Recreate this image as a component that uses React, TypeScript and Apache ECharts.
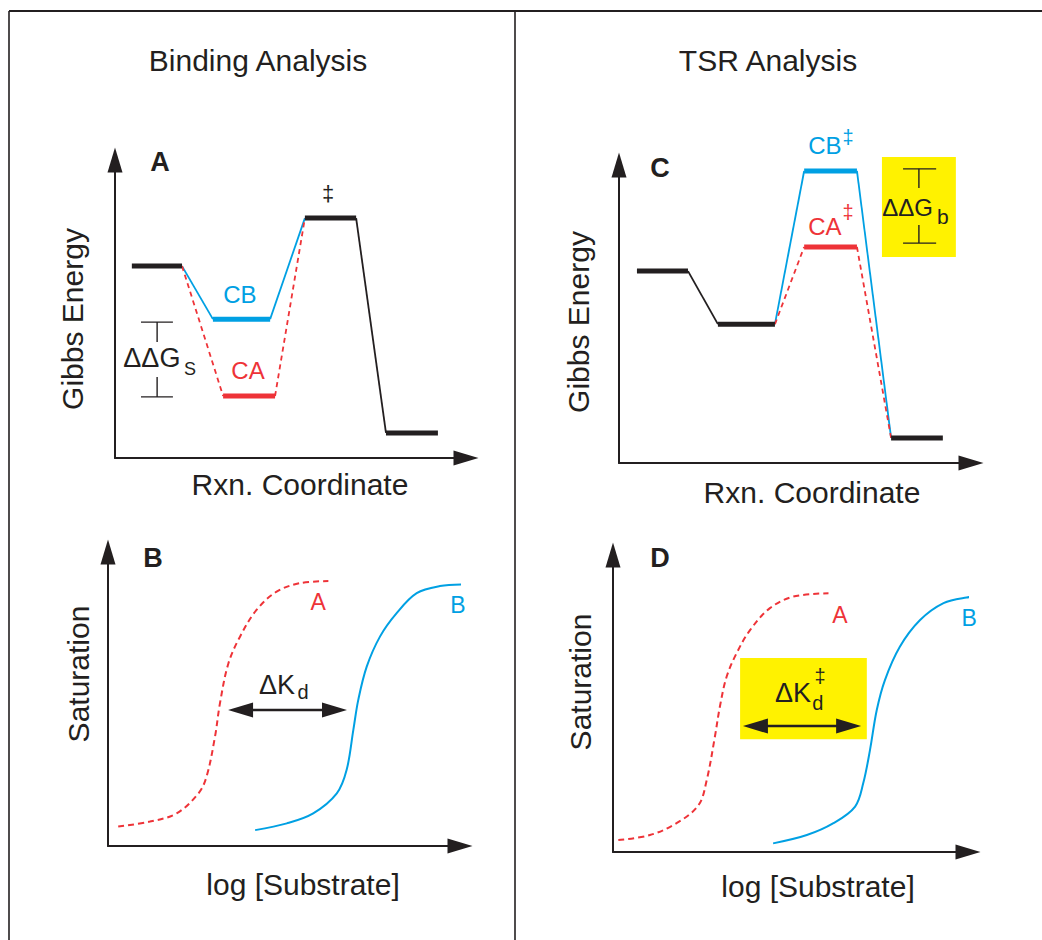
import React, { useEffect, useRef } from 'react';
import * as echarts from 'echarts';

const BLUE = '#00a0e3';
const RED = '#ee3338';
const INK = '#231f20';
const YELLOW = '#fff200';
const FONT = '"Liberation Sans", Arial, Helvetica, sans-serif';
const TONES: Record<string, string> = { ink: INK, blue: BLUE, red: RED };

// ---------- Panel A : Binding analysis energy diagram ----------
const A_LEVEL_START = [4.8, 27.9, 30.8, 54.1, 77.2];
const A_LEVEL_END = [19.1, 44.2, 45.6, 68.7, 92.0];
const A_LEVEL_ENERGY = [64.4, 46.6, 20.8, 80.5, 8.4];
const A_LEVEL_TONE = ['ink', 'blue', 'red', 'ink', 'ink'];
const A_LINK_FROM = [0, 0, 1, 2, 3];
const A_LINK_TO = [1, 2, 3, 3, 4];
const A_LINK_TONE = ['blue', 'red', 'blue', 'red', 'ink'];
const A_BRACKET_X = [7.4, 12.0, 16.5];
const A_BRACKET_Y = [45.6, 38.9, 27.2, 20.5];

// ---------- Panel C : TSR analysis energy diagram ----------
const C_LEVEL_START = [5.1, 28.1, 52.6, 52.6, 77.3];
const C_LEVEL_END = [19.6, 44.3, 67.6, 67.6, 92.0];
const C_LEVEL_ENERGY = [64.4, 46.6, 98.0, 72.5, 8.4];
const C_LEVEL_TONE = ['ink', 'ink', 'blue', 'red', 'ink'];
const C_LINK_FROM = [0, 1, 1, 2, 3];
const C_LINK_TO = [1, 2, 3, 4, 4];
const C_LINK_TONE = ['ink', 'blue', 'red', 'blue', 'red'];
const C_BRACKET_X = [80.7, 85.2, 90.1];
const C_BRACKET_Y = [98.7, 92.3, 79.9, 73.8];
const C_BOX_X = [74.7, 95.7];
const C_BOX_Y = [102.7, 69.1];

// ---------- Panel B : saturation curves ----------
const B_A_X = [2.9, 11.9, 19.5, 25.7, 28.0, 30.4, 31.8, 34.2, 37.5, 42.2, 47.9, 54.5, 62.6];
const B_A_Y = [6.6, 8.3, 11.1, 17.9, 23.6, 37.2, 48.5, 62.1, 71.2, 80.3, 86.5, 89.4, 90.1];
const B_B_X = [41.8, 50.8, 58.3, 65.0, 67.8, 69.7, 71.1, 73.5, 77.3, 82.0, 87.7, 94.3, 101.4];
const B_B_Y = [5.4, 7.7, 11.1, 17.9, 25.9, 39.5, 49.7, 61.0, 71.3, 79.2, 86.0, 88.4, 89.0];
const B_ARROW_X = [34.1, 67.9];
const B_ARROW_Y = 46.3;

// ---------- Panel D : saturation curves ----------
const D_A_X = [1.5, 10.4, 17.9, 24.1, 26.4, 28.7, 30.1, 32.0, 34.8, 38.6, 44.2, 50.8, 60.7];
const D_A_Y = [4.0, 5.7, 9.7, 15.8, 24.2, 38.8, 48.9, 59.0, 66.9, 74.7, 82.1, 86.0, 87.1];
const D_B_X = [45.1, 54.6, 62.1, 68.2, 70.5, 72.4, 74.3, 76.6, 80.8, 86.5, 93.1, 99.6, 104.3];
const D_B_Y = [2.9, 5.7, 9.7, 15.3, 23.2, 34.4, 47.8, 57.9, 69.1, 78.1, 83.8, 85.7, 86.1];
const D_ARROW_X = [36.6, 69.9];
const D_ARROW_Y = 42.4;
const D_BOX_X = [35.8, 71.5];
const D_BOX_Y = [65.3, 38.0];

const GRIDS = [
  { left: 115, top: 160, width: 351, height: 298 }, // A
  { left: 619, top: 165, width: 352, height: 298 }, // C
  { left: 108, top: 552, width: 352, height: 294 }, // B
  { left: 613, top: 555, width: 355, height: 297 }, // D
];

const axisBase = (g: number) => ({
  type: 'value',
  gridIndex: g,
  min: 0,
  max: 100,
  axisLine: {
    show: true,
    onZero: false,
    symbol: ['none', 'triangle'],
    symbolSize: [15, 25],
    lineStyle: { color: INK, width: 2 },
  },
  axisTick: { show: false },
  axisLabel: { show: false },
  splitLine: { show: false },
});

function seg(g: number, pts: number[][], color: string, width: number, dashed = false, z = 2) {
  return {
    type: 'line',
    xAxisIndex: g,
    yAxisIndex: g,
    data: pts,
    symbol: 'none',
    silent: true,
    clip: false,
    z,
    lineStyle: { color, width, type: dashed ? [5, 4] : 'solid', cap: 'butt' },
  };
}

function energySeries(g: number, start: number[], end: number[], energy: number[], tone: string[],
  from: number[], to: number[], linkTone: string[]) {
  const out: any[] = [];
  from.forEach((f, i) => {
    const t = to[i];
    out.push(seg(g, [[end[f], energy[f]], [start[t], energy[t]]], TONES[linkTone[i]], 1.8, linkTone[i] === 'red', 2));
  });
  start.forEach((s, i) => {
    out.push(seg(g, [[s, energy[i]], [end[i], energy[i]]], TONES[tone[i]], 5, false, 3));
  });
  return out;
}

function bracketSeries(g: number, bx: number[], by: number[]) {
  return [
    seg(g, [[bx[0], by[0]], [bx[2], by[0]]], INK, 1.4),
    seg(g, [[bx[1], by[0]], [bx[1], by[1]]], INK, 1.4),
    seg(g, [[bx[1], by[2]], [bx[1], by[3]]], INK, 1.4),
    seg(g, [[bx[0], by[3]], [bx[2], by[3]]], INK, 1.4),
  ];
}

function curve(g: number, xs: number[], ys: number[], color: string, dashed: boolean) {
  return {
    type: 'line',
    xAxisIndex: g,
    yAxisIndex: g,
    data: xs.map((x, i) => [x, ys[i]]),
    symbol: 'none',
    smooth: 0.35,
    silent: true,
    clip: false,
    z: 2,
    lineStyle: { color, width: 2, type: dashed ? [6, 4] : 'solid' },
  };
}

const option: any = {
  animation: false,
  backgroundColor: '#ffffff',
  grid: GRIDS,
  xAxis: GRIDS.map((_, g) => axisBase(g)),
  yAxis: GRIDS.map((_, g) => axisBase(g)),
  series: [
    ...energySeries(0, A_LEVEL_START, A_LEVEL_END, A_LEVEL_ENERGY, A_LEVEL_TONE, A_LINK_FROM, A_LINK_TO, A_LINK_TONE),
    ...bracketSeries(0, A_BRACKET_X, A_BRACKET_Y),
    ...energySeries(1, C_LEVEL_START, C_LEVEL_END, C_LEVEL_ENERGY, C_LEVEL_TONE, C_LINK_FROM, C_LINK_TO, C_LINK_TONE),
    ...bracketSeries(1, C_BRACKET_X, C_BRACKET_Y),
    curve(2, B_A_X, B_A_Y, RED, true),
    curve(2, B_B_X, B_B_Y, BLUE, false),
    curve(3, D_A_X, D_A_Y, RED, true),
    curve(3, D_B_X, D_B_Y, BLUE, false),
  ],
};

function txt(x: number, y: number, text: string, size: number, color = INK, opts: any = {}) {
  return {
    type: 'text',
    x,
    y,
    rotation: opts.rotation || 0,
    z: 10,
    silent: true,
    style: {
      text,
      fill: color,
      fontSize: size,
      fontFamily: FONT,
      fontWeight: opts.bold ? 'bold' : 'normal',
      align: 'center',
      verticalAlign: 'middle',
    },
  };
}

export default function App() {
  const ref = useRef<HTMLDivElement>(null);
  useEffect(() => {
    const chart = echarts.init(ref.current!, null, { renderer: 'svg' });
    chart.setOption(option);
    const P = (g: number, x: number, y: number) => chart.convertToPixel({ gridIndex: g }, [x, y]) as number[];
    const T = (g: number, x: number, y: number, text: string, size: number, color = INK) => {
      const p = P(g, x, y);
      return txt(p[0], p[1], text, size, color);
    };
    const box = (g: number, bx: number[], by: number[]) => {
      const a = P(g, bx[0], by[0]);
      const b = P(g, bx[1], by[1]);
      return {
        type: 'rect', z: 0, silent: true,
        shape: { x: a[0], y: a[1], width: b[0] - a[0], height: b[1] - a[1] },
        style: { fill: YELLOW },
      };
    };
    const dblArrow = (g: number, ax: number[], ay: number) => {
      const a = P(g, ax[0], ay);
      const b = P(g, ax[1], ay);
      const L = 25, H = 7.5;
      return [
        { type: 'line', z: 10, silent: true, shape: { x1: a[0] + L - 2, y1: a[1], x2: b[0] - L + 2, y2: b[1] }, style: { stroke: INK, lineWidth: 2.5 } },
        { type: 'polygon', z: 10, silent: true, shape: { points: [[a[0], a[1]], [a[0] + L, a[1] - H], [a[0] + L, a[1] + H]] }, style: { fill: INK } },
        { type: 'polygon', z: 10, silent: true, shape: { points: [[b[0], b[1]], [b[0] - L, b[1] - H], [b[0] - L, b[1] + H]] }, style: { fill: INK } },
      ];
    };
    const frame = (x1: number, y1: number, x2: number, y2: number, w: number) => ({
      type: 'line', z: 10, silent: true, shape: { x1, y1, x2, y2 }, style: { stroke: INK, lineWidth: w },
    });

    const graphic: any[] = [
      frame(9, 11, 1042, 11, 2),
      frame(9, 11, 9, 940, 1.6),
      frame(515, 11, 515, 940, 1.6),
      txt(258, 60, 'Binding Analysis', 30),
      txt(768, 60, 'TSR Analysis', 30),
      txt(72, 319, 'Gibbs Energy', 30, INK, { rotation: Math.PI / 2 }),
      txt(578, 322, 'Gibbs Energy', 30, INK, { rotation: Math.PI / 2 }),
      txt(300, 484, 'Rxn. Coordinate', 30),
      txt(812, 492, 'Rxn. Coordinate', 30),
      txt(78, 674, 'Saturation', 30, INK, { rotation: Math.PI / 2 }),
      txt(580, 682, 'Saturation', 30, INK, { rotation: Math.PI / 2 }),
      txt(303, 884, 'log [Substrate]', 30),
      txt(818, 886, 'log [Substrate]', 30),
      txt(160, 162, 'A', 27, INK, { bold: true }),
      txt(153, 558, 'B', 27, INK, { bold: true }),
      txt(660, 168, 'C', 27, INK, { bold: true }),
      txt(660, 558, 'D', 27, INK, { bold: true }),
      // panel A labels
      T(0, 60.7, 88.9, '‡', 22),
      T(0, 35.6, 54.7, 'CB', 24, BLUE),
      T(0, 37.9, 29.5, 'CA', 24, RED),
      T(0, 10.5, 33.6, 'ΔΔG', 27),
      T(0, 21.4, 29.9, 'S', 18),
      // panel C labels
      box(1, C_BOX_X, C_BOX_Y),
      T(1, 58.5, 106.7, 'CB', 24, BLUE),
      T(1, 65.1, 109.4, '‡', 20, BLUE),
      T(1, 58.5, 79.2, 'CA', 24, RED),
      T(1, 65.1, 84.2, '‡', 20, RED),
      T(1, 82.0, 85.6, 'ΔΔG', 24),
      T(1, 92.0, 82.6, 'b', 21),
      // panel B labels
      T(2, 59.7, 83.0, 'A', 23, RED),
      T(2, 99.4, 82.0, 'B', 23, BLUE),
      T(2, 48.0, 54.8, 'ΔK', 27),
      T(2, 55.4, 52.4, 'd', 20),
      ...dblArrow(2, B_ARROW_X, B_ARROW_Y),
      // panel D labels
      box(3, D_BOX_X, D_BOX_Y),
      T(3, 63.9, 79.8, 'A', 23, RED),
      T(3, 100.3, 78.8, 'B', 23, BLUE),
      T(3, 50.7, 53.5, 'ΔK', 27),
      T(3, 57.7, 50.2, 'd', 20),
      T(3, 58.3, 59.1, '‡', 20),
      ...dblArrow(3, D_ARROW_X, D_ARROW_Y),
    ];
    chart.setOption({ graphic });
    return () => chart.dispose();
  }, []);
  return (
    <div
      ref={ref}
      style={{ position: 'fixed', left: 0, top: 0, width: 1042, height: 940, background: '#fff' }}
    />
  );
}
